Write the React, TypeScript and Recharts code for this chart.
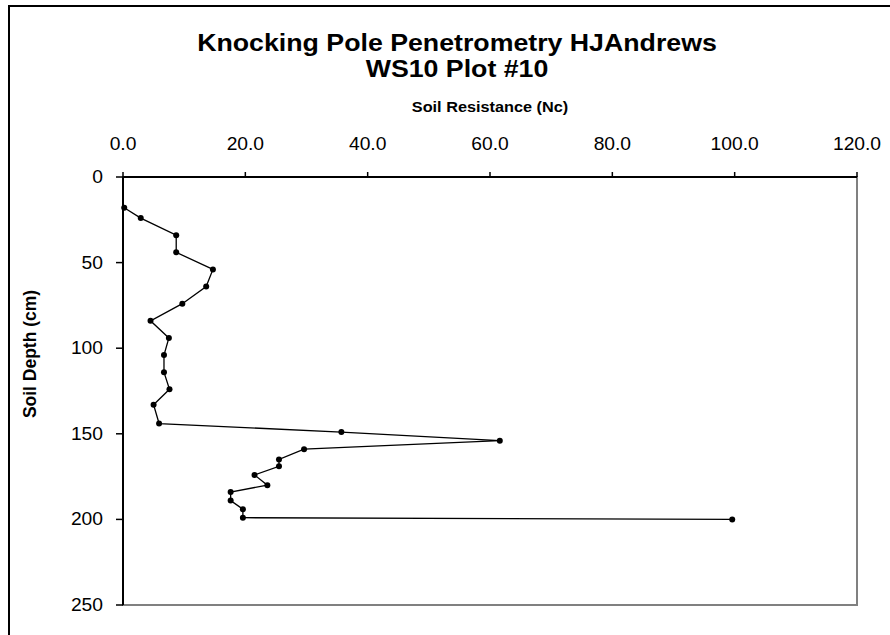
import {
  ScatterChart,
  Scatter,
  XAxis,
  YAxis,
  ReferenceArea,
  Label,
} from "recharts";

// Soil depth (cm) and knocking pole resistance (Nc), read down the profile
const depthCm = [
  18, 24, 34, 44, 54, 64, 74, 84, 94, 104, 114, 124, 133, 144, 149, 154, 159,
  165, 169, 174, 180, 184, 189, 194, 199, 200,
];
const resistanceNc = [
  0.2, 2.9, 8.7, 8.7, 14.7, 13.6, 9.7, 4.5, 7.5, 6.7, 6.7, 7.6, 5.0, 5.9, 35.7,
  61.6, 29.6, 25.5, 25.5, 21.5, 23.6, 17.6, 17.6, 19.6, 19.6, 99.6,
];
const resistanceTicks = [0, 20, 40, 60, 80, 100, 120];
const depthTicks = [0, 50, 100, 150, 200, 250];

const profile = depthCm.map((d, i) => ({ depth: d, nc: resistanceNc[i] }));

const FONT = "'Liberation Sans', Arial, sans-serif";
// the original picture is a little stretched sideways, so the text is too
const STRETCH = 1.1;

function XTick(props: any) {
  const { x, y, payload } = props;
  return (
    <g transform={`translate(${x},${y})`}>
      <text
        transform={`scale(${STRETCH},1)`}
        y={-22}
        textAnchor="middle"
        fontSize={17.5}
        fontFamily={FONT}
        fill="#000"
      >
        {Number(payload.value).toFixed(1)}
      </text>
    </g>
  );
}

function YTick(props: any) {
  const { x, y, payload } = props;
  return (
    <g transform={`translate(${x},${y})`}>
      <text
        transform={`scale(${STRETCH},1)`}
        y={6}
        textAnchor="end"
        fontSize={17.5}
        fontFamily={FONT}
        fill="#000"
      >
        {payload.value}
      </text>
    </g>
  );
}

function Dot(props: any) {
  const { cx, cy } = props;
  return <circle cx={cx} cy={cy} r={3} fill="#000" />;
}

export default function App() {
  return (
    <div
      style={{
        position: "absolute",
        left: 0,
        top: 0,
        width: 890,
        height: 635,
        overflow: "hidden",
        background: "#fff",
      }}
    >
      <div
        style={{
          position: "absolute",
          left: 8,
          top: 5,
          width: 1000,
          height: 1000,
          borderTop: "2px solid #000",
          borderLeft: "2px solid #000",
        }}
      />

      <svg
        width={890}
        height={100}
        style={{ position: "absolute", left: 0, top: 0 }}
      >
        <g transform={`translate(457,0) scale(${STRETCH},1)`}>
          <text
            y={51}
            textAnchor="middle"
            fontSize={24.3}
            fontWeight="bold"
            fontFamily={FONT}
          >
            Knocking Pole Penetrometry HJAndrews
          </text>
          <text
            y={77}
            textAnchor="middle"
            fontSize={24.3}
            fontWeight="bold"
            fontFamily={FONT}
          >
            WS10 Plot #10
          </text>
        </g>
      </svg>

      <div style={{ position: "absolute", left: 0, top: 0 }}>
        <ScatterChart
          width={890}
          height={635}
          margin={{ top: 137, right: 33, bottom: 30, left: 63 }}
        >
          <ReferenceArea
            x1={0}
            x2={120}
            y1={0}
            y2={250}
            fill="none"
            stroke="#808080"
            strokeWidth={2}
            ifOverflow="visible"
          />

          <XAxis
            type="number"
            dataKey="nc"
            orientation="top"
            domain={[0, 120]}
            ticks={resistanceTicks}
            height={40}
            tickSize={5}
            tickMargin={0}
            axisLine={{ stroke: "#000", strokeWidth: 2 }}
            tickLine={{ stroke: "#000", strokeWidth: 1.5 }}
            tick={<XTick />}
          >
            <Label
              content={(p: any) => {
                const vb = p.viewBox;
                return (
                  <g transform={`translate(${vb.x + vb.width / 2},${vb.y - 25})`}>
                    <text
                      transform={`scale(${STRETCH},1)`}
                      textAnchor="middle"
                      fontSize={14.8}
                      fontWeight="bold"
                      fontFamily={FONT}
                    >
                      Soil Resistance (Nc)
                    </text>
                  </g>
                );
              }}
            />
          </XAxis>

          <YAxis
            type="number"
            dataKey="depth"
            reversed
            domain={[0, 250]}
            ticks={depthTicks}
            width={60}
            tickSize={7}
            tickMargin={13}
            axisLine={{ stroke: "#000", strokeWidth: 2 }}
            tickLine={{ stroke: "#000", strokeWidth: 1.5 }}
            tick={<YTick />}
          >
            <Label
              content={(p: any) => {
                const vb = p.viewBox;
                return (
                  <g
                    transform={`translate(${vb.x - 27},354) scale(${STRETCH},1) rotate(-90)`}
                  >
                    <text
                      textAnchor="middle"
                      fontSize={17.5}
                      fontWeight="bold"
                      fontFamily={FONT}
                    >
                      Soil Depth (cm)
                    </text>
                  </g>
                );
              }}
            />
          </YAxis>

          <Scatter
            data={profile}
            line={{ stroke: "#000", strokeWidth: 1.3 }}
            shape={<Dot />}
            isAnimationActive={false}
          />
        </ScatterChart>
      </div>
    </div>
  );
}
